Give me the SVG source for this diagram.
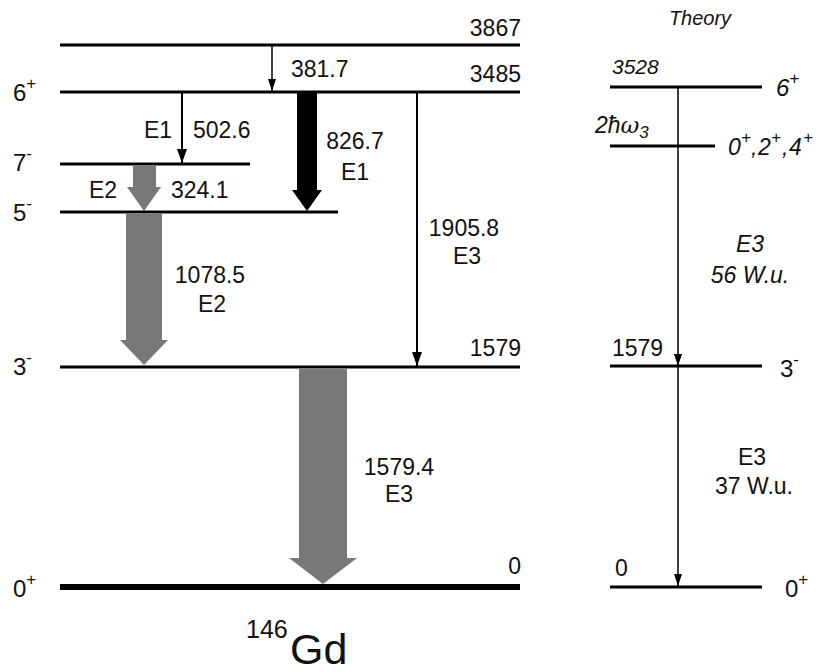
<svg xmlns="http://www.w3.org/2000/svg" width="839" height="672" viewBox="0 0 839 672">
<style>
  text { font-family: "Liberation Sans", Arial, sans-serif; fill: #111; }
  .lbl { font-size: 23px; }
  .spin { font-size: 24px; }
  .sup { font-size: 17px; }
  .it { font-style: italic; }
  .lvl { stroke: #000; stroke-width: 3; fill: none; }
  .gnd { stroke: #000; stroke-width: 6; fill: none; }
  .thin { stroke: #000; stroke-width: 2; fill: none; }
  .thinner { stroke: #000; stroke-width: 1.5; fill: none; }
  .grey { fill: #787878; stroke: none; }
  .black { fill: #000; stroke: none; }
</style>
<defs>
  <marker id="ah" viewBox="0 0 14 10" refX="14" refY="5" markerWidth="14" markerHeight="10" markerUnits="userSpaceOnUse" orient="auto">
    <path d="M0,0 L14,5 L0,10 z" fill="#000"/>
  </marker>
  <marker id="ahs" viewBox="0 0 12 8" refX="12" refY="4" markerWidth="12" markerHeight="8" markerUnits="userSpaceOnUse" orient="auto">
    <path d="M0,0 L12,4 L0,8 z" fill="#000"/>
  </marker>
</defs>
<rect width="839" height="672" fill="#fff"/>

<!-- Experimental levels -->
<g id="level-3867">
  <line class="lvl" x1="60" y1="45" x2="520" y2="45"/>
  <text class="lbl" x="521" y="36" text-anchor="end">3867</text>
</g>
<g id="level-3485">
  <line class="lvl" x1="60" y1="92" x2="520" y2="92"/>
  <text class="lbl" x="521" y="82" text-anchor="end">3485</text>
  <text class="spin" x="13" y="101">6<tspan class="sup" dy="-12">+</tspan></text>
</g>
<g id="level-7minus">
  <line class="lvl" x1="60" y1="164" x2="250" y2="164"/>
  <text class="spin" x="13" y="171">7<tspan class="sup" dy="-12">-</tspan></text>
</g>
<g id="level-5minus">
  <line class="lvl" x1="60" y1="212" x2="338" y2="212"/>
  <text class="spin" x="13" y="221">5<tspan class="sup" dy="-12">-</tspan></text>
</g>
<g id="level-1579">
  <line class="lvl" x1="60" y1="367" x2="520" y2="367"/>
  <text class="lbl" x="521" y="356" text-anchor="end">1579</text>
  <text class="spin" x="13" y="375">3<tspan class="sup" dy="-12">-</tspan></text>
</g>
<g id="level-0">
  <line class="gnd" x1="60" y1="587" x2="520" y2="587"/>
  <text class="lbl" x="521" y="574" text-anchor="end">0</text>
  <text class="spin" x="13" y="597">0<tspan class="sup" dy="-12">+</tspan></text>
</g>
<g id="title">
  <text x="246" y="638" font-size="25">146</text>
  <text x="290" y="664" font-size="43">Gd</text>
</g>

<!-- Theory levels -->
<g id="theory-title">
  <text class="it" x="700" y="25" font-size="20" text-anchor="middle">Theory</text>
</g>
<g id="th-level-3528">
  <line class="lvl" x1="610" y1="87" x2="762" y2="87"/>
  <text class="it" x="612" y="74" font-size="21">3528</text>
  <text class="spin it" x="776" y="96">6<tspan class="sup" dy="-12">+</tspan></text>
</g>
<g id="th-level-2hw3">
  <line class="lvl" x1="610" y1="146" x2="715" y2="146"/>
  <text class="it" x="595" y="133" font-size="23">2ħ<tspan font-family="'DejaVu Serif', serif">ω</tspan><tspan font-size="17" dy="5">3</tspan></text>
  <text class="it" y="155" font-size="23"><tspan x="728">0</tspan><tspan class="sup" x="741" dy="-12">+</tspan><tspan x="751" dy="12">,</tspan><tspan x="758">2</tspan><tspan class="sup" x="771" dy="-12">+</tspan><tspan x="782" dy="12">,</tspan><tspan x="789">4</tspan><tspan class="sup" x="803" dy="-12">+</tspan></text>
</g>
<g id="th-level-1579">
  <line class="lvl" x1="610" y1="366" x2="762" y2="366"/>
  <text class="lbl" x="612" y="356">1579</text>
  <text class="spin" x="780" y="377">3<tspan class="sup" dy="-12">-</tspan></text>
</g>
<g id="th-level-0">
  <line class="lvl" x1="610" y1="587" x2="762" y2="587"/>
  <text class="lbl" x="615" y="576">0</text>
  <text class="spin" x="785" y="597">0<tspan class="sup" dy="-12">+</tspan></text>
</g>

<!-- Connectors -->
<g id="connectors">
  <line class="thinner" x1="272" y1="46" x2="272" y2="91" marker-end="url(#ahs)"/>
  <text class="lbl" x="291" y="77">381.7</text>

  <line class="thin" x1="182" y1="93" x2="182" y2="163" marker-end="url(#ah)"/>
  <text class="lbl" x="144" y="138">E1</text>
  <text class="lbl" x="193" y="138">502.6</text>

  <polygon class="black" points="297,93 317,93 317,190 322,190 307,211 292,190 297,190"/>
  <text class="lbl" x="355" y="149" text-anchor="middle">826.7</text>
  <text class="lbl" x="355" y="180" text-anchor="middle">E1</text>

  <polygon class="grey" points="133,166 156,166 156,187 161,187 144,211 127,187 133,187"/>
  <text class="lbl" x="89" y="198">E2</text>
  <text class="lbl" x="171" y="198">324.1</text>

  <polygon class="grey" points="126,214 162,214 162,340 168,340 144,365 120,340 126,340"/>
  <text class="lbl" x="210" y="283" text-anchor="middle">1078.5</text>
  <text class="lbl" x="212" y="312" text-anchor="middle">E2</text>

  <line class="thin" x1="417" y1="93" x2="417" y2="366" marker-end="url(#ah)"/>
  <text class="lbl" x="464" y="236" text-anchor="middle">1905.8</text>
  <text class="lbl" x="467" y="264" text-anchor="middle">E3</text>

  <polygon class="grey" points="299,369 347,369 347,558 357,558 323,584 289,558 299,558"/>
  <text class="lbl" x="399" y="475" text-anchor="middle">1579.4</text>
  <text class="lbl" x="399" y="502" text-anchor="middle">E3</text>

  <line class="thinner" x1="678" y1="87" x2="678" y2="366" marker-end="url(#ahs)"/>
  <line class="thinner" x1="678" y1="366" x2="678" y2="586" marker-end="url(#ahs)"/>
  <text class="lbl it" x="750" y="252" text-anchor="middle">E3</text>
  <text class="lbl it" x="750" y="283" text-anchor="middle">56 W.u.</text>
  <text class="lbl" x="752" y="465" text-anchor="middle">E3</text>
  <text class="lbl" x="754" y="494" text-anchor="middle">37 W.u.</text>
</g>
</svg>
